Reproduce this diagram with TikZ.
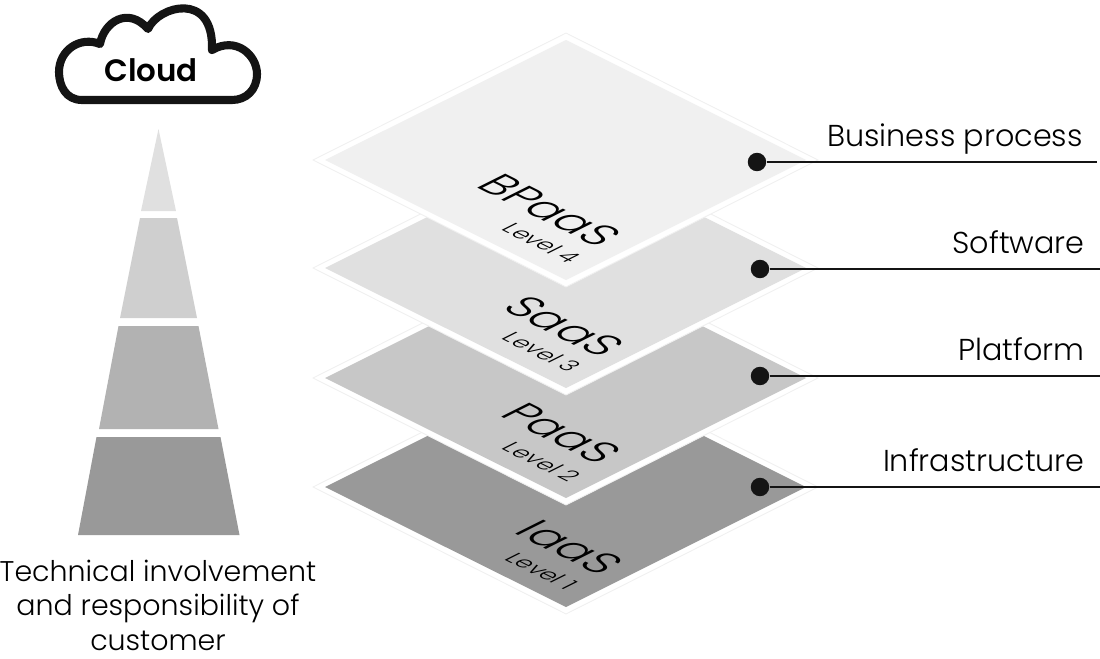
\documentclass[tikz,border=0pt]{standalone}
\usepackage{fontspec}
\setmainfont{Poppins Light}
\newfontfamily\cloudfont{Poppins SemiBold}
\definecolor{layerD}{gray}{0.94}
\definecolor{layerC}{gray}{0.88}
\definecolor{layerB}{gray}{0.78}
\definecolor{layerA}{gray}{0.60}
\tikzset{
	sheet/.style={fill=white, draw=black!6, line width=0.5pt},
	dotmark/.style={circle, fill=black!92, inner sep=0pt, minimum size=10.5pt},
	leader/.style={line width=0.9pt, color=black!92},
	tagname/.style={anchor=base east, font=\fontsize{17.2}{19}\selectfont, inner sep=0pt},
	slabname/.style={inner sep=0pt, font=\fontsize{25.5}{27}\selectfont, cm={0.894,-0.447,0.894,0.447,(0,0)}},
	slablevel/.style={inner sep=0pt, font=\fontsize{13}{15}\selectfont, cm={0.894,-0.447,0.894,0.447,(0,0)}},
}
\def\slab#1#2{%
	\draw[sheet] (566,#2-127) -- (818,#2) -- (566,#2+127) -- (313,#2) -- cycle;
	\fill[#1] (566,#2-120) -- (806,#2) -- (566,#2+120) -- (325,#2) -- cycle;
}
\begin{document}
\begin{tikzpicture}[x=0.02cm, y=-0.02cm]
	\useasboundingbox (0,0) rectangle (1100,659);
	
	% cloud
	\draw[line width=4.6pt, line join=round, color=black!92] (82,100)
		.. controls (66,100) and (59,86) .. (59,72)
		.. controls (59,50) and (80,36) .. (100,44)
		.. controls (104,22) and (128,6) .. (148,29)
		.. controls (158,6) and (214,-10) .. (212,50)
		.. controls (236,36) and (257,55) .. (257,74)
		.. controls (257,90) and (246,100) .. (232,100) -- cycle;
	\node[inner sep=0pt, font=\cloudfont\fontsize{17.6}{19}\selectfont] (cloudname) at (151,70) {Cloud};
	
	% pyramid
	\fill[black!12] (158.5,129) -- (176,211) -- (141,211) -- cycle;
	\fill[black!19] (140,218) -- (177,218) -- (197,318) -- (120,318) -- cycle;
	\fill[black!30] (118.5,326) -- (198.5,326) -- (218.5,429) -- (99,429) -- cycle;
	\fill[layerA] (96.5,437) -- (220.5,437) -- (239.5,535) -- (78,535) -- cycle;
	\node[align=center, inner sep=0pt, font=\fontsize{16.2}{19.6}\selectfont] (duty) at (158,605) {Technical involvement\\and responsibility of\\customer};
	
	% layers
	\slab{layerA}{487}
	\slab{layerB}{378}
	\slab{layerC}{268}
	\slab{layerD}{160}
	
	\node[slabname] (iaas) at (570,547) {IaaS};
	\node[slablevel] (iaaslevel) at (542,571) {Level 1};
	\node[slabname] (paas) at (562,433) {PaaS};
	\node[slablevel] (paaslevel) at (542,462) {Level 2};
	\node[slabname] (saas) at (564,326) {SaaS};
	\node[slablevel] (saaslevel) at (542,352) {Level 3};
	\node[slabname] (bpaas) at (550,210) {BPaaS};
	\node[slablevel] (bpaaslevel) at (542,243) {Level 4};
	
	% tags
	\node[dotmark] (dotbiz) at (757,162) {};
	\node[dotmark] (dotsw) at (760,269) {};
	\node[dotmark] (dotpf) at (760,376) {};
	\node[dotmark] (dotinf) at (760,487) {};
	\coordinate (endbiz) at (1097,162);
	\coordinate (endsw) at (1100,269);
	\coordinate (endpf) at (1100,376);
	\coordinate (endinf) at (1100,487);
	\draw[leader] (dotbiz) -- (endbiz);
	\draw[leader] (dotsw) -- (endsw);
	\draw[leader] (dotpf) -- (endpf);
	\draw[leader] (dotinf) -- (endinf);
	\node[tagname] (bizname) at (1083,146) {Business process};
	\node[tagname] (swname) at (1085,253) {Software};
	\node[tagname] (pfname) at (1085,360) {Platform};
	\node[tagname] (infname) at (1085,471) {Infrastructure};
\end{tikzpicture}
\end{document}
